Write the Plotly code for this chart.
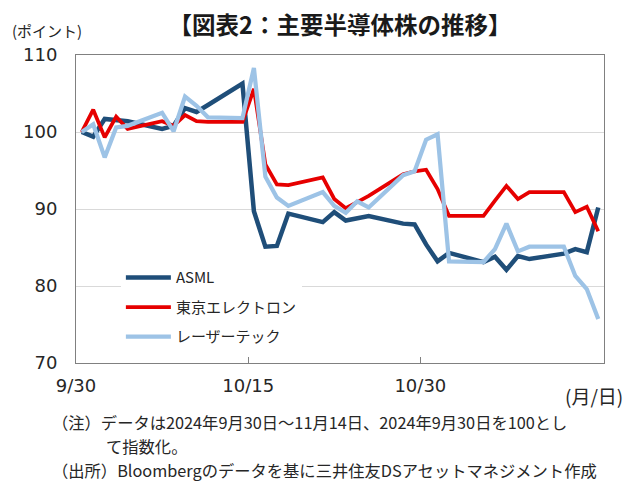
import pandas as pd
import plotly.graph_objects as go

dates = ["2024-09-30", "2024-10-01", "2024-10-02", "2024-10-03", "2024-10-04",
         "2024-10-07", "2024-10-08", "2024-10-09", "2024-10-10", "2024-10-11",
         "2024-10-14", "2024-10-15", "2024-10-16", "2024-10-17", "2024-10-18",
         "2024-10-21", "2024-10-22", "2024-10-23", "2024-10-24", "2024-10-25",
         "2024-10-28", "2024-10-29", "2024-10-30", "2024-10-31", "2024-11-01",
         "2024-11-04", "2024-11-05", "2024-11-06", "2024-11-07", "2024-11-08",
         "2024-11-11", "2024-11-12", "2024-11-13", "2024-11-14"]

asml = [100, 99.4, 101.7, 101.6, 101.4, 100.4, 100.8, 103.1, 102.6, 103.5,
        106.3, 89.7, 85.1, 85.2, 89.4, 88.3, 89.6, 88.5, 88.8, 89.1,
        88.1, 88.0, 85.4, 83.2, 84.3, 83.1, 83.8, 82.1, 83.9, 83.5,
        84.2, 84.8, 84.4, 90.2]

tel = [100, 102.9, 99.3, 102.0, 100.4, 101.4, 100.8, 102.2, 101.4, 101.3,
       101.3, 105.6, 95.8, 93.2, 93.1, 94.1, 91.3, 90.1, 90.9, 91.7,
       94.5, 94.9, 95.1, 92.6, 89.1, 89.1, 91.1, 93.0, 91.3, 92.2,
       92.2, 89.6, 90.3, 87.1]

lasertec = [100, 101.0, 96.7, 100.6, 100.8, 102.5, 100.1, 104.6, 103.4, 101.9,
            101.8, 108.3, 94.2, 91.5, 90.4, 92.2, 90.4, 89.5, 91.0, 90.2,
            94.4, 94.9, 99.0, 99.7, 83.2, 83.1, 84.8, 88.1, 84.5, 85.1,
            85.1, 81.3, 79.6, 75.7]

names = ["ASML", "東京エレクトロン", "レーザーテック"]
colors = ["#1f4e79", "#e60000", "#9dc3e6"]
widths = [4.5, 3.75, 4.25]

tick_dates = ["2024-09-30", "2024-10-15", "2024-10-30"]
tick_text = ["9/30", "10/15", "10/30"]

FONT = "Noto Sans CJK JP"
NUM_FONT = "DejaVu Sans"
TXT = "#262626"

# points sit in the middle of each day, like an Excel date axis
x = pd.to_datetime(dates) + pd.Timedelta(hours=12)

fig = go.Figure()
for i, (name, vals) in enumerate(zip(names, [asml, tel, lasertec])):
    fig.add_trace(go.Scatter(x=x, y=vals, name=name, mode="lines",
                             legendgroup=str(i),
                             line=dict(color=colors[i], width=widths[i])))

# the page body keeps its 8px margin, so the figure is 8px smaller
fig.update_layout(
    width=632, height=485,
    margin=dict(l=68, r=36, t=47, b=130),
    paper_bgcolor="white", plot_bgcolor="white",
    font=dict(family=FONT, color=TXT),
    title=dict(text="<b>【図表2：主要半導体株の推移】</b>",
               x=0.5, xref="paper", y=0.963, yref="container",
               xanchor="center", yanchor="middle",
               font=dict(size=23.5, color="#1a1a1a")),
    legend=dict(x=0.085, y=0.33, xanchor="left", yanchor="top",
                bgcolor="white", font=dict(size=15, color=TXT),
                tracegroupgap=7, itemwidth=45),
    xaxis=dict(type="date",
               range=["2024-09-30", "2024-11-15"],
               tickvals=tick_dates, ticktext=tick_text,
               ticks="inside", ticklen=6, tickcolor="#808080",
               showgrid=False, showline=True, linecolor="#808080",
               mirror=True, ticklabelstandoff=6,
               tickfont=dict(family=NUM_FONT, size=18, color=TXT)),
    yaxis=dict(range=[70, 110], dtick=10,
               showgrid=True, gridcolor="#d9d9d9", gridwidth=1,
               showline=True, linecolor="#808080", mirror=True,
               zeroline=False, ticks="", ticklabelstandoff=14,
               tickfont=dict(family=NUM_FONT, size=18, color=TXT)),
)

# white legend panel hides the 80 gridline, as in the original
fig.add_shape(type="rect", xref="paper", yref="paper",
              x0=0.027, x1=0.42, y0=0.055, y1=0.325,
              fillcolor="white", line_width=0, layer="between")

fig.add_annotation(text="(ポイント)", xref="paper", yref="paper",
                   x=-0.125, y=1.078, xanchor="left", yanchor="middle",
                   showarrow=False, font=dict(size=15, color=TXT))
fig.add_annotation(text="(月/日)", xref="paper", yref="paper",
                   x=1.04, y=-0.107, xanchor="right", yanchor="middle",
                   showarrow=False, font=dict(size=19, color=TXT))

notes = [("（注）データは2024年9月30日～11月14日、2024年9月30日を100とし", -0.05, -0.1916),
         ("て指数化。", 0.053, -0.2695),
         ("（出所）Bloombergのデータを基に三井住友DSアセットマネジメント作成", -0.05, -0.3474)]
for text, nx, ny in notes:
    fig.add_annotation(text=text, xref="paper", yref="paper",
                       x=nx, y=ny, xanchor="left", yanchor="middle",
                       showarrow=False, font=dict(size=16.3, color=TXT))

fig.write_html("out.html")
